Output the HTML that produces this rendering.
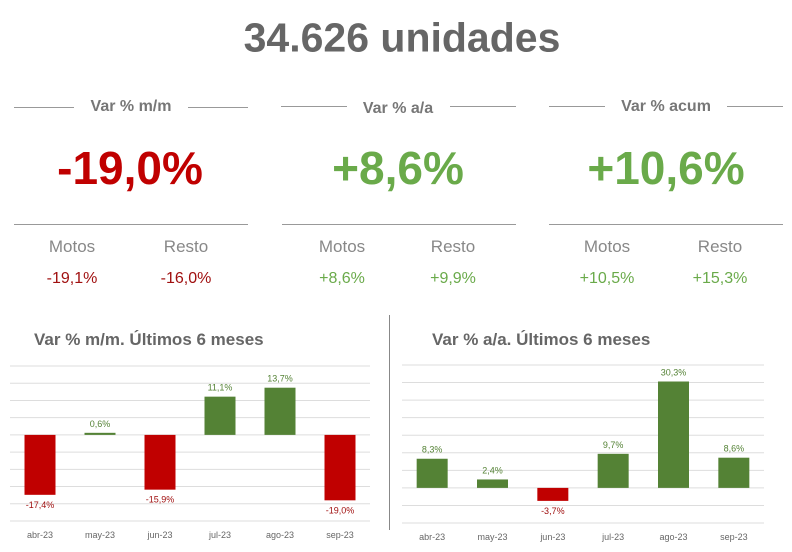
<!DOCTYPE html>
<html><head><meta charset="utf-8"><style>
body{margin:0;width:792px;height:552px;background:#fff;font-family:"Liberation Sans",sans-serif;position:relative;overflow:hidden}
.a{position:absolute}
.t{position:absolute;transform:translate(-50%,-50%);white-space:nowrap}
.ln{position:absolute;height:1px;background:#999}
</style></head><body>
<div class="t" style="left:402px;top:38px;font-size:41px;font-weight:bold;color:#666">34.626 unidades</div>

<div>
<div class="ln" style="left:14px;top:107px;width:60px"></div><div class="ln" style="left:188px;top:107px;width:60px"></div>
<div class="t" style="left:131px;top:107px;font-size:16px;font-weight:bold;color:#777">Var % m/m</div>
<div class="t" style="left:130px;top:168px;font-size:46px;font-weight:bold;color:#c00000">-19,0%</div>
<div class="ln" style="left:14px;top:224px;width:234px"></div>
<div class="t" style="left:72px;top:247px;font-size:17px;color:#888">Motos</div>
<div class="t" style="left:186px;top:247px;font-size:17px;color:#888">Resto</div>
<div class="t" style="left:72px;top:279px;font-size:16px;color:#a01010">-19,1%</div>
<div class="t" style="left:186px;top:279px;font-size:16px;color:#a01010">-16,0%</div>
</div>

<div>
<div class="ln" style="left:281px;top:106px;width:66px"></div><div class="ln" style="left:450px;top:106px;width:66px"></div>
<div class="t" style="left:398px;top:109px;font-size:16px;font-weight:bold;color:#777">Var % a/a</div>
<div class="t" style="left:398px;top:168px;font-size:46px;font-weight:bold;color:#6aaa4a">+8,6%</div>
<div class="ln" style="left:282px;top:224px;width:234px"></div>
<div class="t" style="left:342px;top:247px;font-size:17px;color:#888">Motos</div>
<div class="t" style="left:453px;top:247px;font-size:17px;color:#888">Resto</div>
<div class="t" style="left:342px;top:279px;font-size:16px;color:#6aaa4a">+8,6%</div>
<div class="t" style="left:453px;top:279px;font-size:16px;color:#6aaa4a">+9,9%</div>
</div>

<div>
<div class="ln" style="left:549px;top:106px;width:56px"></div><div class="ln" style="left:727px;top:106px;width:56px"></div>
<div class="t" style="left:666px;top:107px;font-size:16px;font-weight:bold;color:#777">Var % acum</div>
<div class="t" style="left:666px;top:168px;font-size:46px;font-weight:bold;color:#6aaa4a">+10,6%</div>
<div class="ln" style="left:549px;top:224px;width:234px"></div>
<div class="t" style="left:607px;top:247px;font-size:17px;color:#888">Motos</div>
<div class="t" style="left:720px;top:247px;font-size:17px;color:#888">Resto</div>
<div class="t" style="left:607px;top:279px;font-size:16px;color:#6aaa4a">+10,5%</div>
<div class="t" style="left:720px;top:279px;font-size:16px;color:#6aaa4a">+15,3%</div>
</div>

<div class="a" style="left:389px;top:315px;width:1px;height:215px;background:#888"></div>
<div class="a" style="left:34px;top:330px;font-size:17px;font-weight:bold;color:#666">Var % m/m. Últimos 6 meses</div>
<div class="a" style="left:432px;top:330px;font-size:17px;font-weight:bold;color:#666">Var % a/a. Últimos 6 meses</div>

<svg class="a" style="left:0;top:0" width="792" height="552" id="svg"></svg>
<script>
const categories=["abr-23","may-23","jun-23","jul-23","ago-23","sep-23"];
const mmValues=[-17.4,0.6,-15.9,11.1,13.7,-19.0];
const aaValues=[8.3,2.4,-3.7,9.7,30.3,8.6];
const mmTicks=[20,15,10,5,0,-5,-10,-15,-20,-25];
const aaTicks=[35,30,25,20,15,10,5,0,-5,-10];
const svg=document.getElementById('svg');
const NS='http://www.w3.org/2000/svg';
function mk(t,a){const e=document.createElementNS(NS,t);for(const k in a)e.setAttribute(k,a[k]);svg.appendChild(e);return e;}
function fmt(v){return v.toFixed(1).replace('.',',')+'%';}
function chart(vals,ticks,x0,x1,yTop,yBot,name){
  const max=ticks[0],min=ticks[ticks.length-1];
  const y=v=>yTop+(max-v)/(max-min)*(yBot-yTop);
  const bw=(x1-x0)/categories.length;
  ticks.forEach(t=>{const l=mk('line',{x1:x0,x2:x1,y1:y(t),y2:y(t),stroke:'#ddd','stroke-width':1});
    
    });
  vals.forEach((v,i)=>{
    const cx=x0+bw*(i+0.5),pos=v>=0,col=pos?'#548235':'#c00000';
    const r=mk('rect',{x:cx-15.5,y:Math.min(y(v),y(0)),width:31,height:Math.max(1.5,Math.abs(y(v)-y(0))),fill:col});
    
    
    const lt=mk('text',{x:cx,y:pos?y(v)-6:y(v)+13,'text-anchor':'middle','font-size':9,fill:pos?'#548235':'#a01010','font-family':'Liberation Sans'});
    lt.textContent=fmt(v);
    
    
    const ct=mk('text',{x:cx,y:yBot+17,'text-anchor':'middle','font-size':9,fill:'#666','font-family':'Liberation Sans'});
    ct.textContent=categories[i];
    
    
  });
}
chart(mmValues,mmTicks,10,370,366,521,'chart-mm');
chart(aaValues,aaTicks,402,764,365,523,'chart-aa');
</script>
</body></html>
